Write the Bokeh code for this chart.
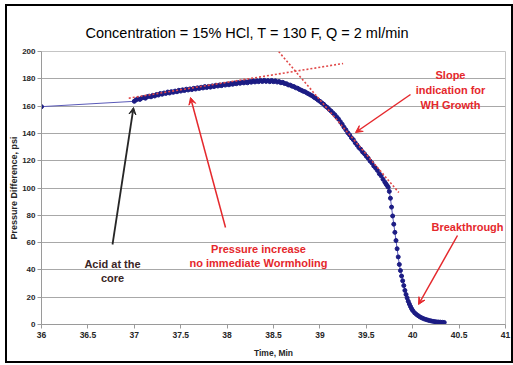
from bokeh.plotting import figure
from bokeh.models import Range1d, FixedTicker, Label, Arrow, VeeHead, ColumnDataSource, InlineStyleSheet
from bokeh.embed import file_html
from bokeh.resources import INLINE

# ---------------- data ----------------
title_text = "Concentration = 15% HCl, T = 130 F, Q =  2 ml/min"
x_label = "Time, Min"
y_label = "Pressure Difference, psi"
x_ticks = [36, 36.5, 37, 37.5, 38, 38.5, 39, 39.5, 40, 40.5, 41]
x_tick_labels = ["36", "36.5", "37", "37.5", "38", "38.5", "39", "39.5", "40", "40.5", "41"]
y_ticks = [0, 20, 40, 60, 80, 100, 120, 140, 160, 180, 200]

time_min = [
    36.00,
    37.00, 37.02, 37.04, 37.06, 37.08, 37.10, 37.12, 37.14, 37.16, 37.18,
    37.20, 37.22, 37.24, 37.26, 37.28, 37.30, 37.32, 37.34, 37.36, 37.38,
    37.40, 37.42, 37.44, 37.46, 37.48, 37.50, 37.52, 37.54, 37.56, 37.58,
    37.60, 37.62, 37.64, 37.66, 37.68, 37.70, 37.72, 37.74, 37.76, 37.78,
    37.80, 37.82, 37.84, 37.86, 37.88, 37.90, 37.92, 37.94, 37.96, 37.98,
    38.00, 38.02, 38.04, 38.06, 38.08, 38.10, 38.12, 38.14, 38.16, 38.18,
    38.20, 38.22, 38.24, 38.26, 38.28, 38.30, 38.32, 38.34, 38.36, 38.38,
    38.40, 38.42, 38.44, 38.46, 38.48, 38.50, 38.52, 38.54, 38.56, 38.58,
    38.60, 38.62, 38.64, 38.66, 38.68, 38.70, 38.72, 38.74, 38.76, 38.78,
    38.80, 38.82, 38.84, 38.86, 38.88, 38.90, 38.92, 38.94, 38.96, 38.98,
    39.00, 39.02, 39.04, 39.06, 39.08, 39.10, 39.12, 39.14, 39.16, 39.18,
    39.20, 39.22, 39.24, 39.26, 39.28, 39.30, 39.32, 39.34, 39.36, 39.38,
    39.40, 39.42, 39.44, 39.46, 39.48, 39.50, 39.52, 39.54, 39.56, 39.58,
    39.60, 39.62, 39.64, 39.66, 39.68, 39.70,
    39.712, 39.724, 39.736, 39.748, 39.760, 39.772, 39.784, 39.796, 39.808, 39.820,
    39.832, 39.844, 39.856, 39.868, 39.880, 39.892, 39.904, 39.916, 39.928, 39.940,
    39.952, 39.964, 39.976, 39.988, 40.000,
    40.02, 40.04, 40.06, 40.08, 40.10, 40.12, 40.14, 40.16, 40.18, 40.20,
    40.22, 40.24, 40.26, 40.28, 40.30, 40.32, 40.34,
]
pressure_psi = [
    159.6,
    163.5, 164.6, 165.3, 164.9, 165.9, 166.3, 165.8, 166.9, 167.3, 166.8,
    167.9, 167.4, 168.5, 168.1, 169.2, 168.7, 169.6, 169.3, 170.3, 169.6,
    170.6, 170.1, 171.0, 170.5, 171.6, 171.0, 171.9, 171.4, 172.4, 171.8,
    172.6, 172.1, 173.0, 172.5, 173.4, 172.9, 173.8, 173.3, 174.3, 173.6,
    174.4, 173.9, 174.8, 174.3, 175.3, 174.7, 175.5, 175.0, 175.9, 175.4,
    176.2, 175.6, 176.5, 176.0, 176.9, 176.4, 177.2, 176.7, 177.6, 177.0,
    177.8, 177.1, 178.2, 177.5, 178.5, 177.7, 178.6, 177.9, 178.8, 178.0,
    178.9, 178.1, 178.7, 177.9, 178.8, 177.9, 178.5, 177.6, 178.0, 177.1,
    177.4, 176.5, 176.4, 175.5, 175.4, 174.6, 174.3, 173.4, 173.1, 172.2,
    171.6, 170.9, 170.5, 169.6, 168.9, 168.1, 167.4, 166.3, 165.5, 164.4,
    163.5, 162.4, 161.4, 160.0, 159.0, 157.6, 156.4, 155.0, 153.7, 152.1,
    150.6, 148.6, 146.7, 144.5, 142.6, 140.5, 138.9, 136.8, 135.4, 133.2,
    131.5, 129.6, 128.3, 126.4, 125.1, 123.3, 121.8, 119.8, 118.4, 116.2,
    114.6, 112.9, 110.5, 108.9, 106.4, 104.3,
    103.0, 101.8, 100.6, 97.5, 92.5, 86.0, 79.5, 73.5, 67.5, 61.5,
    55.5, 49.5, 44.0, 39.5, 35.5, 32.0, 28.5, 25.0, 22.0, 19.5,
    17.0, 15.0, 13.2, 11.6, 10.2,
    8.6, 7.4, 6.4, 5.5, 4.8, 4.2, 3.7, 3.3, 2.9, 2.6,
    2.3, 2.1, 1.9, 1.8, 1.7, 1.6, 1.5,
]

# hand-drawn trend lines (time, psi)
trend_plateau_t = [36.94, 39.25]
trend_plateau_p = [165.8, 191.2]
trend_wormhole_t = [38.50, 39.85]
trend_wormhole_p = [204.4, 96.7]

# ---------------- layout ----------------
W, H = 513, 365
FL, FR, FT, FB = 41, 505, 51, 324
X0, X1, Y0, Y1 = 36, 41, 0, 200


def tx(px):
    return X0 + (px - FL) * (X1 - X0) / (FR - FL)


def ty(pyv):
    return Y0 + (FB - pyv) * (Y1 - Y0) / (FB - FT)


RED = "#e5282c"
NAVY = "#1c1c84"
DARK = "#262626"
FONT = "Liberation Sans"

p = figure(width=W, height=H, x_range=Range1d(X0, X1), y_range=Range1d(Y0, Y1),
           min_border_left=FL, min_border_right=W - FR, min_border_top=FT,
           min_border_bottom=H - FB, toolbar_location=None, output_backend="svg",
           background_fill_color="white", border_fill_color="white",
           title=title_text)

# outer black frame of the picture, drawn as an overlay box on the plot element
frame_css = """
:host::after {
  content: "";
  position: absolute;
  left: 5px; top: 4px; right: 0.5px; bottom: 2px;
  border: 2.5px solid black;
  pointer-events: none;
  z-index: 100;
}
"""
p.stylesheets = [InlineStyleSheet(css=frame_css)]

p.title.align = "left"
p.title.offset = 44
p.title.vertical_align = "top"
p.title.standoff = 18
p.title.text_font = FONT
p.title.text_font_size = "14.5px"
p.title.text_font_style = "normal"
p.title.text_color = "black"

p.outline_line_color = "#c4c4c4"
p.xgrid.visible = False
p.ygrid.ticker = FixedTicker(ticks=y_ticks)
p.ygrid.grid_line_color = "#a8a8a8"
p.ygrid.grid_line_width = 1

p.xaxis.ticker = FixedTicker(ticks=x_ticks)
p.xaxis.major_label_overrides = dict(zip(x_ticks, x_tick_labels))
p.yaxis.ticker = FixedTicker(ticks=y_ticks)
for ax in (p.xaxis, p.yaxis):
    ax.axis_line_color = "#9a9a9a"
    ax.major_tick_line_color = "#9a9a9a"
    ax.major_tick_out = 4
    ax.major_tick_in = 0
    ax.minor_tick_line_color = None
    ax.major_label_text_font = FONT
    ax.major_label_text_font_style = "bold"
    ax.major_label_text_color = DARK
    ax.axis_label_text_font = FONT
    ax.axis_label_text_font_style = "bold"
    ax.axis_label_text_color = DARK
p.xaxis.major_label_text_font_size = "8.5px"
p.yaxis.major_label_text_font_size = "8px"
p.xaxis.major_label_standoff = 3
p.yaxis.major_label_standoff = 2
p.xaxis.axis_label = x_label
p.xaxis.axis_label_text_font_size = "8.5px"
p.xaxis.axis_label_standoff = 7
p.yaxis.axis_label = y_label
p.yaxis.axis_label_text_font_size = "9px"
p.yaxis.axis_label_standoff = 0

src = ColumnDataSource(dict(t=time_min, p=pressure_psi))
p.line("t", "p", source=src, line_color="#5a5ab8", line_width=1)
p.scatter("t", "p", source=src, marker="circle", size=4, fill_color=NAVY, line_color=NAVY)

# trend lines (dotted red)
p.add_layout(Arrow(end=None, x_start=trend_plateau_t[0], y_start=trend_plateau_p[0],
                   x_end=trend_plateau_t[1], y_end=trend_plateau_p[1],
                   line_color="#e04848", line_width=1.6, line_dash="2 2"))
p.add_layout(Arrow(end=None, x_start=trend_wormhole_t[0], y_start=trend_wormhole_p[0],
                   x_end=trend_wormhole_t[1], y_end=trend_wormhole_p[1],
                   line_color="#e04848", line_width=1.6, line_dash="2 2"))


# callout arrows
def callout(x0, y0, x1, y1, color, width=1.5):
    p.add_layout(Arrow(end=VeeHead(size=7, line_color=color, fill_color=color, line_width=1),
                       x_start=tx(x0), y_start=ty(y0), x_end=tx(x1), y_end=ty(y1),
                       line_color=color, line_width=width))


callout(410, 94, 355, 132, RED)
callout(225, 227, 190, 97, RED)
callout(112, 244, 133, 107, DARK, 1.8)
callout(457, 235, 418, 304, RED)


# texts
def text(px, pyv, s, size, color, bold=True):
    p.add_layout(Label(x=tx(px), y=ty(pyv), text=s, text_align="center",
                       text_baseline="alphabetic", text_font=FONT, text_font_size=size,
                       text_color=color, text_font_style="bold" if bold else "normal"))


text(450, 74, "Slope", "11px", RED)
text(450, 89, "indication for", "11px", RED)
text(450, 104, "WH Growth", "11px", RED)
text(258, 248, "Pressure increase", "11px", RED)
text(258, 262, "no immediate Wormholing", "11px", RED)
text(112, 263, "Acid at the", "11px", "#3a2626")
text(112, 277, "core", "11px", "#3a2626")
text(467, 226, "Breakthrough", "11px", RED)

open("out.html", "w").write(file_html(p, INLINE))
